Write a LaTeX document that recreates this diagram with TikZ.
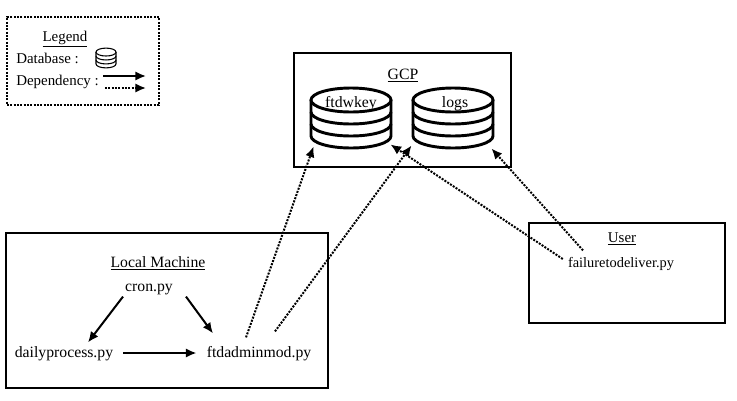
\documentclass[tikz,border=0pt]{standalone}
\usepackage{fontspec}
\setmainfont{Liberation Serif}
\usetikzlibrary{arrows.meta}

\tikzset{
	txt/.style={inner sep=0pt,text height=8pt,text depth=1.5pt,font=\fontsize{11.8}{12}\selectfont},
	keytxt/.style={txt,font=\fontsize{11.2}{12}\selectfont},
	frame/.style={draw,line width=1.5pt,inner sep=0pt,outer sep=0pt,anchor=north west},
	legendframe/.style={frame,densely dotted},
	dbbox/.style={inner sep=0pt,minimum width=60pt,minimum height=45pt},
	call/.style={-{Latex[length=8pt,width=7pt]},line width=1.5pt},
	dep/.style={-{Latex[length=8pt,width=7pt]},line width=1.5pt,densely dotted},
	pics/dbstack/.style={code={
		\node[dbbox] (-box) at (0,0) {};
		\draw[fill=white] (-40,-18) -- (-40,18) arc[start angle=180,end angle=0,x radius=40,y radius=12] -- (40,-18);
		\foreach \y in {-6,6}{
			\draw (-40,\y) arc[start angle=180,end angle=0,x radius=40,y radius=12];
		}
		\draw[fill=white] (0,-18) ellipse[x radius=40,y radius=12];
	}}
}

\begin{document}
\begin{tikzpicture}[x=0.75pt,y=-0.75pt]

\useasboundingbox (0,0) rectangle (737,400);

% boxes
\node[legendframe,minimum width=114pt,minimum height=66pt](legendbox) at (7,17){};
\node[frame,minimum width=162.75pt,minimum height=85.5pt](gcpbox) at (294,53){};
\node[frame,minimum width=241.5pt,minimum height=116.25pt](localbox) at (6,233){};
\node[frame,minimum width=147pt,minimum height=75pt](userbox) at (529,223){};

% legend
\node[keytxt](legendtitle) at (65,37){\underline{Legend}};
\node[keytxt,anchor=west](dbkey) at (16,59){Database :};
\node[keytxt,anchor=west](depkey) at (16,81){Dependency :};
\pic[xscale=.25,yscale=.33,line width=.8pt](dbicon) at (106,58){dbstack};
\coordinate(callfrom) at (103,76);
\coordinate(callto) at (146,76);
\coordinate(depfrom) at (105,88);
\coordinate(depto) at (146,88);
\draw[call](callfrom)--(callto);
\draw[dep](depfrom)--(depto);

% GCP
\node[txt](gcptitle) at (403,75){\underline{GCP}};
\pic[line width=2.2pt](ftdwkey) at (351,118){dbstack};
\pic[line width=2.2pt](logs) at (453,118){dbstack};
\node[txt](ftdwkeylabel) at (351,103){ftdwkey};
\node[txt](logslabel) at (455,103){logs};

% local machine
\node[txt](localtitle) at (158,263){\underline{Local Machine}};
\node[txt](cron) at (149,287){cron.py};
\node[txt](daily) at (64,353){dailyprocess.py};
\node[txt](ftdadminmod) at (259,353){ftdadminmod.py};

% user
\node[keytxt](usertitle) at (622,238){\underline{User}};
\node[txt,font=\fontsize{10.8}{12}\selectfont](failure) at (621,263){failuretodeliver.py};

\draw[call]([shift={(-26,3)}]cron.south)--([shift={(24,-4)}]daily.north);
\draw[call]([shift={(37,3)}]cron.south)--([shift={(-46,-13)}]ftdadminmod.north);
\draw[call]([shift={(10,0)}]daily.east)--([shift={(-10,0)}]ftdadminmod.west);

\draw[dep]([shift={(-13,-9)}]ftdadminmod.north)--([shift={(4,-3)}]ftdwkey-box.south west);
\draw[dep]([shift={(16,-15)}]ftdadminmod.north)--([shift={(0,-4)}]logs-box.south west);
\draw[dep]([shift={(-5,-4)}]failure.west)--([shift={(-2,-5)}]ftdwkey-box.south east);
\draw[dep]([shift={(-38,-6)}]failure.north)--([shift={(-3,-1)}]logs-box.south east);

\end{tikzpicture}
\end{document}
